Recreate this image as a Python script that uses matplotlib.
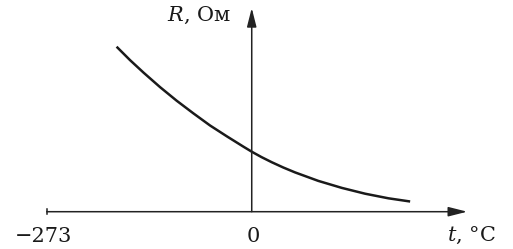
import numpy as np
import matplotlib
matplotlib.use('Agg')
import matplotlib.pyplot as plt

# curve (t in degC, R in arbitrary units)
t_vals = [-180, -162, -144, -122, -100, -78, -55.5, -33, -11, 0,
          13, 26.6, 42, 57.7, 88.7, 120, 151, 182, 211]
r_vals = [165, 151.5, 139, 124.5, 111, 98.5, 86.2, 75.3, 65, 60,
          54.6, 49.5, 44.2, 39.3, 30.8, 23.8, 18, 13.4, 10.2]

t_abs_zero = -273
x_tick_labels = ['\u2212273', '0']
x_tick_pos = [-273, 0]

plt.rcParams['font.family'] = ['DejaVu Serif']
plt.rcParams['mathtext.fontset'] = 'dejavuserif'

fig = plt.figure(figsize=(5.13, 2.49), dpi=100)
ax = fig.add_axes([0, 0, 1, 1])
ax.set_xlim(-335.3, 348.0)
ax.set_ylim(-37.3, 211.7)
ax.axis('off')

# axes with arrows
arrow = dict(arrowstyle='-|>,head_length=0.95,head_width=0.24', mutation_scale=12,
             color='#222222', lw=1.1, shrinkA=0, shrinkB=0)
ax.annotate('', xy=(287, 0), xytext=(t_abs_zero, 0), arrowprops=arrow)
ax.annotate('', xy=(0, 203.7), xytext=(0, 0), arrowprops=arrow)
ax.plot([t_abs_zero, t_abs_zero], [-2.5, 2.5], color='#222222', lw=1.1)

# resistance curve
ax.plot(t_vals, r_vals, color='#1a1a1a', lw=1.8, solid_capstyle='butt',
        solid_joinstyle='round')

fs = 15
for pos, lab in zip(x_tick_pos, x_tick_labels):
    off = -3.7 if pos < 0 else 1.7
    ax.text(pos + off, -24.3, lab, ha='center', va='center', fontsize=fs, color='#1a1a1a')
ax.text(292, -23.5, r'$t$, °C', ha='center', va='center', fontsize=fs, color='#1a1a1a')
ax.text(-70, 196.7, r'$R$, Ом', ha='center', va='center', fontsize=fs, color='#1a1a1a')

fig.savefig('out.png', dpi=100)
